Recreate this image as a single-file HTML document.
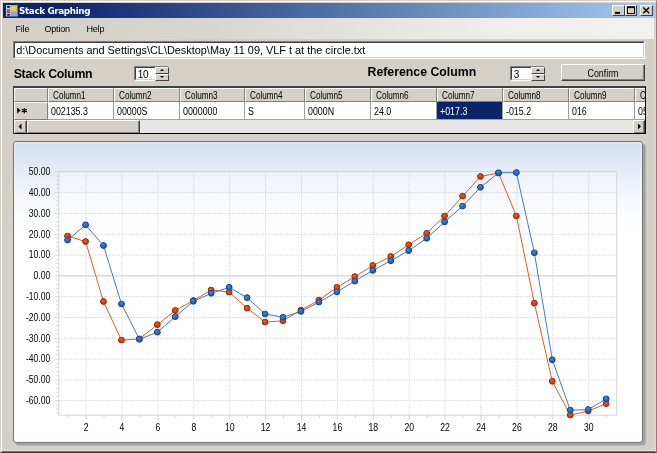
<!DOCTYPE html>
<html><head><meta charset="utf-8"><title>Stack Graphing</title>
<style>
html,body{margin:0;padding:0;}
body{width:657px;height:453px;overflow:hidden;background:#d4d0c8;position:relative;font-family:"Liberation Sans",sans-serif;color:#000;}
div,span,b,i{box-sizing:border-box;}
.abs{position:absolute;}
#frame{position:absolute;left:0;top:0;width:657px;height:453px;border-top:1px solid #d4d0c8;border-left:1px solid #d4d0c8;border-right:1px solid #85857f;border-bottom:1px solid #404040;}
#frame2{position:absolute;left:1px;top:1px;width:655px;height:451px;border-top:1px solid #fff;border-left:1px solid #fff;border-right:1px solid #dcdad4;border-bottom:1px solid #6e6e6e;}
#frame3{position:absolute;left:2px;top:450px;width:653px;height:1px;background:#e2e0da;}
#title{position:absolute;left:3px;top:3px;width:652.5px;height:15px;background:linear-gradient(to right,#0a246a 0%,#0a246a 8%,#a6caf0 100%);}
#title .txt{position:absolute;left:16px;top:1.5px;font-family:"DejaVu Sans","Liberation Sans",sans-serif;font-weight:bold;font-size:8.8px;line-height:12px;color:#fff;white-space:nowrap;letter-spacing:-0.36px;}
.wb{position:absolute;top:2px;height:11px;width:12.4px;background:#d4d0c8;border-top:1px solid #fff;border-left:1px solid #fff;border-right:1px solid #404040;border-bottom:1px solid #404040;}
#menu{position:absolute;left:3px;top:18px;width:651px;height:20.5px;background:linear-gradient(to right,#d4d0c8 0%,#d8d5ce 30%,#efeeea 75%,#f2f1ed 100%);}
#menu span{position:absolute;top:6px;font-size:9px;line-height:11px;letter-spacing:-0.2px;}
#tb{position:absolute;left:13px;top:41px;width:632px;height:17.6px;background:#fff;border-top:1px solid #808080;border-left:1px solid #808080;border-right:1px solid #fff;border-bottom:1px solid #fff;}
#tb i{position:absolute;left:0;top:0;right:0;bottom:0;border-top:1px solid #404040;border-left:1px solid #404040;border-right:1px solid #d4d0c8;border-bottom:1px solid #d4d0c8;}
#tb span{position:absolute;left:2.2px;top:2.4px;font-size:10.9px;line-height:13px;white-space:nowrap;}
.lbl{position:absolute;font-weight:bold;font-size:12.3px;line-height:14px;white-space:nowrap;}
.nud{position:absolute;top:66px;height:15px;width:35px;background:#fff;border-top:1px solid #808080;border-left:1px solid #808080;border-right:1px solid #fff;border-bottom:1px solid #fff;}
.nud i{position:absolute;left:0;top:0;right:0;bottom:0;border-top:1px solid #404040;border-left:1px solid #404040;border-right:1px solid #d4d0c8;border-bottom:1px solid #d4d0c8;}
.nud span{position:absolute;left:2.8px;top:1.7px;font-size:10px;line-height:11px;letter-spacing:-0.4px;}
.nud b{position:absolute;left:20.3px;width:13.7px;height:7px;background:#d4d0c8;border-top:1px solid #fff;border-left:1px solid #fff;border-right:1px solid #404040;border-bottom:1px solid #404040;}
.nud b.u{top:0px;height:6.6px;} .nud b.d{top:6.6px;height:7.4px;}
.nud b:after{content:"";position:absolute;left:3.6px;top:1.3px;border-left:2px solid transparent;border-right:2px solid transparent;}
.nud b.u:after{border-bottom:2px solid #000;}
.nud b.d:after{border-top:2px solid #000;}
#btn{position:absolute;left:561px;top:64px;width:84px;height:17px;background:#d4d0c8;border-top:1px solid #fff;border-left:1px solid #fff;border-right:1px solid #404040;border-bottom:1px solid #404040;}
#btn i{position:absolute;left:0;top:0;right:0;bottom:0;border-right:1px solid #808080;border-bottom:1px solid #808080;}
#btn span{position:absolute;left:0;right:0;top:2.8px;text-align:center;font-size:10.3px;line-height:11px;transform:scaleX(0.86);}
#grid{position:absolute;left:13px;top:86px;width:633px;height:48px;border:1px solid #000;border-top:1px solid #404040;border-left:1px solid #404040;background:#fff;overflow:hidden;}
#grid .in{position:absolute;left:0;top:0;width:631px;height:46px;border-top:1px solid #404040;border-left:0px solid #404040;overflow:hidden;}
.hc,.dc,.rh,.rh0{position:absolute;font-size:10px;white-space:nowrap;overflow:hidden;}
.hc{top:0;height:14px;background:#d4d0c8;border-right:1px solid #808080;border-bottom:1px solid #808080;border-top:1px solid #fff;border-left:1px solid #fff;}
.hc span{position:absolute;left:4.0px;top:0.8px;line-height:11px;display:inline-block;transform-origin:0 50%;transform:scaleX(0.815);}
.dc{top:14px;height:18px;background:#fff;border-right:1px solid #a0a0a0;border-bottom:1px solid #a0a0a0;}
.dc span{position:absolute;left:2.8px;top:3.9px;line-height:11px;display:inline-block;transform-origin:0 50%;transform:scaleX(0.885);}
.dc.sel{background:#0a246a;color:#fff;}
.rh0{left:0;top:0;width:34px;height:14px;background:#d4d0c8;border-right:1px solid #808080;border-bottom:1px solid #808080;border-top:1px solid #fff;border-left:1px solid #fff;}
.rh{left:0;top:14px;width:34px;height:18px;background:#d4d0c8;border-right:1px solid #808080;border-bottom:1px solid #808080;border-top:1px solid #fff;border-left:1px solid #fff;}
.rh span{position:absolute;left:2px;top:3px;font-size:8px;line-height:11px;letter-spacing:-1.5px;}
#sb{position:absolute;left:0;top:32px;width:631px;height:14px;background:#e9e7e3;}
.sbb{position:absolute;top:0;height:14px;background:#d4d0c8;border-top:1px solid #fff;border-left:1px solid #fff;border-right:1px solid #404040;border-bottom:1px solid #404040;}
.sbb i{position:absolute;left:0;top:0;right:0;bottom:0;border-right:1px solid #808080;border-bottom:1px solid #808080;}
.chart{position:absolute;left:0;top:0;}
.al{font-family:"Liberation Sans",sans-serif;font-size:10.3px;fill:#000;}
</style></head>
<body>
<div id="frame"></div><div id="frame2"></div><div id="frame3"></div>
<div id="title">
<svg class="abs" style="left:2.6px;top:1.9px" width="12" height="12" viewBox="0 0 12 12"><rect x="0" y="0" width="11.6" height="11.4" fill="#9fb4dc"/><rect x="0.3" y="0.3" width="4.4" height="10.8" fill="#c4d0e6"/><rect x="4.7" y="6.8" width="6.6" height="4.3" fill="#86a6e0"/><rect x="1.2" y="0.9" width="2.6" height="1.9" fill="#0a0a14"/><rect x="1.1" y="4.3" width="2.9" height="3.8" fill="#d8281a"/><rect x="1.9" y="5.2" width="1.2" height="1.4" fill="#ff7a50"/><rect x="1.2" y="9" width="2.6" height="1.7" fill="#0a1020"/><rect x="5.1" y="1.2" width="5.6" height="5.4" fill="#e8c81c"/><rect x="6" y="1.9" width="3.6" height="3.4" fill="#fbe85a"/><path d="M5.1 3.9 H10.7 M7.9 1.2 V6.6" stroke="#d8b010" stroke-width="0.5"/></svg>
<span class="txt">Stack Graphing</span>
<div class="wb" style="left:609.4px"><svg class="abs" style="left:0;top:0" width="10" height="9"><rect x="1.9" y="5.9" width="5.2" height="2" fill="#000"/></svg></div>
<div class="wb" style="left:622px"><svg class="abs" style="left:0;top:0" width="10" height="9"><rect x="1.5" y="1" width="7" height="6.5" fill="none" stroke="#000" stroke-width="1"/><rect x="1" y="0.5" width="8" height="1.6" fill="#000"/></svg></div>
<div class="wb" style="left:637.3px"><svg class="abs" style="left:0;top:0" width="10" height="9"><path d="M2.2 1.6 L8.2 7.2 M8.2 1.6 L2.2 7.2" stroke="#000" stroke-width="1.4" fill="none"/></svg></div>
</div>
<div id="menu"><span style="left:12.5px">File</span><span style="left:41.5px">Option</span><span style="left:83.5px">Help</span></div>
<div id="tb"><i></i><span>d:\Documents and Settings\CL\Desktop\May 11 09, VLF t at the circle.txt</span></div>
<div class="lbl" style="left:13.7px;top:66.8px;letter-spacing:-0.28px">Stack Column</div>
<div class="lbl" style="left:367.5px;top:65.4px">Reference Column</div>
<div class="nud" style="left:134px"><i></i><span>10</span><b class="u"></b><b class="d"></b></div>
<div class="nud" style="left:510px"><i></i><span>3</span><b class="u"></b><b class="d"></b></div>
<div id="btn"><i></i><span>Confirm</span></div>
<div id="grid"><div class="in">
<div class="rh0"></div><div class="rh"><svg class="abs" style="left:0;top:0" width="30" height="17" viewBox="0 0 30 17"><path d="M2.2 4.6 L2.2 10.6 L5.6 7.6 Z" fill="#000"/><path d="M9.3 5 L9.3 10.4 M6.7 6.3 L11.9 9.1 M11.9 6.3 L6.7 9.1" stroke="#000" stroke-width="1.1" fill="none"/></svg></div>
<div class="hc" style="left:34px;width:66px"><span>Column1</span></div>
<div class="dc" style="left:34px;width:66px"><span>002135.3</span></div>
<div class="hc" style="left:100px;width:66px"><span>Column2</span></div>
<div class="dc" style="left:100px;width:66px"><span>00000S</span></div>
<div class="hc" style="left:166px;width:65px"><span>Column3</span></div>
<div class="dc" style="left:166px;width:65px"><span>0000000</span></div>
<div class="hc" style="left:231px;width:60px"><span>Column4</span></div>
<div class="dc" style="left:231px;width:60px"><span>S</span></div>
<div class="hc" style="left:291px;width:66px"><span>Column5</span></div>
<div class="dc" style="left:291px;width:66px"><span>0000N</span></div>
<div class="hc" style="left:357px;width:66px"><span>Column6</span></div>
<div class="dc" style="left:357px;width:66px"><span>24.0</span></div>
<div class="hc" style="left:423px;width:66px"><span>Column7</span></div>
<div class="dc sel" style="left:423px;width:66px"><span>+017.3</span></div>
<div class="hc" style="left:489px;width:66px"><span>Column8</span></div>
<div class="dc" style="left:489px;width:66px"><span>-015.2</span></div>
<div class="hc" style="left:555px;width:66px"><span>Column9</span></div>
<div class="dc" style="left:555px;width:66px"><span>016</span></div>
<div class="hc" style="left:621px;width:11px"><span>C</span></div>
<div class="dc" style="left:621px;width:11px"><span>05</span></div>
<div id="sb"><div class="sbb" style="left:0;width:13px"><i></i><svg class="abs" style="left:0;top:0" width="11" height="11"><path d="M6.5 2.5 L6.5 8.5 L3.5 5.5 Z" fill="#000"/></svg></div>
<div class="sbb" style="left:13px;width:112.5px"><i></i></div>
<div class="sbb" style="left:619px;width:12px"><i></i><svg class="abs" style="left:0;top:0" width="11" height="11"><path d="M4 2.5 L4 8.5 L7 5.5 Z" fill="#000"/></svg></div>
</div>
</div></div>
<svg class="chart" width="657" height="453" viewBox="0 0 657 453">
<defs>
<linearGradient id="pg" x1="0" y1="0" x2="0" y2="1"><stop offset="0" stop-color="#d5dff1"/><stop offset="0.1" stop-color="#e6ecf7"/><stop offset="0.17" stop-color="#f2f5fb"/><stop offset="0.24" stop-color="#fbfcfe"/><stop offset="0.3" stop-color="#ffffff"/><stop offset="1" stop-color="#ffffff"/></linearGradient>
<radialGradient id="gb" cx="0.5" cy="0.5" r="0.5" fx="0.42" fy="0.36"><stop offset="0" stop-color="#3f88e6"/><stop offset="0.5" stop-color="#2c69c0"/><stop offset="0.82" stop-color="#1b458c"/><stop offset="1" stop-color="#1b458c" stop-opacity="0.25"/></radialGradient>
<radialGradient id="gr" cx="0.5" cy="0.5" r="0.5" fx="0.42" fy="0.36"><stop offset="0" stop-color="#f05c20"/><stop offset="0.5" stop-color="#cf460e"/><stop offset="0.82" stop-color="#953008"/><stop offset="1" stop-color="#953008" stop-opacity="0.25"/></radialGradient>
</defs>
<rect x="15.5" y="144" width="630.3" height="301.4" rx="3" ry="3" fill="#a2a2a0"/>
<rect x="13.5" y="141.5" width="629" height="300.8" rx="2.6" ry="2.6" fill="url(#pg)" stroke="#6a727e" stroke-width="1"/><rect x="14.6" y="142.6" width="626.8" height="298.6" rx="1.8" ry="1.8" fill="none" stroke="#ffffff" stroke-opacity="0.45" stroke-width="1.2"/>
<rect x="58.8" y="171.6" width="557.9000000000001" height="243.6" fill="#ffffff" fill-opacity="0.3" stroke="#d4d4d4" stroke-width="1"/>
<line x1="58.8" y1="192.7" x2="616.7" y2="192.7" stroke="#d2d2d2" stroke-width="0.9" stroke-dasharray="1.3 1.1"/>
<line x1="58.8" y1="213.5" x2="616.7" y2="213.5" stroke="#d2d2d2" stroke-width="0.9" stroke-dasharray="1.3 1.1"/>
<line x1="58.8" y1="234.3" x2="616.7" y2="234.3" stroke="#d2d2d2" stroke-width="0.9" stroke-dasharray="1.3 1.1"/>
<line x1="58.8" y1="255.1" x2="616.7" y2="255.1" stroke="#d2d2d2" stroke-width="0.9" stroke-dasharray="1.3 1.1"/>
<line x1="58.8" y1="275.9" x2="616.7" y2="275.9" stroke="#c6c6c6" stroke-width="1"/>
<line x1="58.8" y1="296.7" x2="616.7" y2="296.7" stroke="#d2d2d2" stroke-width="0.9" stroke-dasharray="1.3 1.1"/>
<line x1="58.8" y1="317.5" x2="616.7" y2="317.5" stroke="#d2d2d2" stroke-width="0.9" stroke-dasharray="1.3 1.1"/>
<line x1="58.8" y1="338.3" x2="616.7" y2="338.3" stroke="#d2d2d2" stroke-width="0.9" stroke-dasharray="1.3 1.1"/>
<line x1="58.8" y1="359.1" x2="616.7" y2="359.1" stroke="#d2d2d2" stroke-width="0.9" stroke-dasharray="1.3 1.1"/>
<line x1="58.8" y1="379.9" x2="616.7" y2="379.9" stroke="#d2d2d2" stroke-width="0.9" stroke-dasharray="1.3 1.1"/>
<line x1="58.8" y1="400.6" x2="616.7" y2="400.6" stroke="#d2d2d2" stroke-width="0.9" stroke-dasharray="1.3 1.1"/>
<line x1="86.1" y1="171.6" x2="86.1" y2="415.2" stroke="#d2d2d2" stroke-width="0.9" stroke-dasharray="1.3 1.1"/>
<line x1="122.0" y1="171.6" x2="122.0" y2="415.2" stroke="#d2d2d2" stroke-width="0.9" stroke-dasharray="1.3 1.1"/>
<line x1="157.9" y1="171.6" x2="157.9" y2="415.2" stroke="#d2d2d2" stroke-width="0.9" stroke-dasharray="1.3 1.1"/>
<line x1="193.8" y1="171.6" x2="193.8" y2="415.2" stroke="#d2d2d2" stroke-width="0.9" stroke-dasharray="1.3 1.1"/>
<line x1="229.7" y1="171.6" x2="229.7" y2="415.2" stroke="#d2d2d2" stroke-width="0.9" stroke-dasharray="1.3 1.1"/>
<line x1="265.6" y1="171.6" x2="265.6" y2="415.2" stroke="#d2d2d2" stroke-width="0.9" stroke-dasharray="1.3 1.1"/>
<line x1="301.5" y1="171.6" x2="301.5" y2="415.2" stroke="#d2d2d2" stroke-width="0.9" stroke-dasharray="1.3 1.1"/>
<line x1="337.4" y1="171.6" x2="337.4" y2="415.2" stroke="#d2d2d2" stroke-width="0.9" stroke-dasharray="1.3 1.1"/>
<line x1="373.3" y1="171.6" x2="373.3" y2="415.2" stroke="#d2d2d2" stroke-width="0.9" stroke-dasharray="1.3 1.1"/>
<line x1="409.2" y1="171.6" x2="409.2" y2="415.2" stroke="#d2d2d2" stroke-width="0.9" stroke-dasharray="1.3 1.1"/>
<line x1="445.1" y1="171.6" x2="445.1" y2="415.2" stroke="#d2d2d2" stroke-width="0.9" stroke-dasharray="1.3 1.1"/>
<line x1="481.0" y1="171.6" x2="481.0" y2="415.2" stroke="#d2d2d2" stroke-width="0.9" stroke-dasharray="1.3 1.1"/>
<line x1="516.9" y1="171.6" x2="516.9" y2="415.2" stroke="#d2d2d2" stroke-width="0.9" stroke-dasharray="1.3 1.1"/>
<line x1="552.8" y1="171.6" x2="552.8" y2="415.2" stroke="#d2d2d2" stroke-width="0.9" stroke-dasharray="1.3 1.1"/>
<line x1="588.7" y1="171.6" x2="588.7" y2="415.2" stroke="#d2d2d2" stroke-width="0.9" stroke-dasharray="1.3 1.1"/>
<line x1="54.3" y1="171.9" x2="58.8" y2="171.9" stroke="#d2d2d2" stroke-width="0.9"/>
<line x1="56.199999999999996" y1="176.1" x2="58.8" y2="176.1" stroke="#d2d2d2" stroke-width="0.9"/>
<line x1="56.199999999999996" y1="180.2" x2="58.8" y2="180.2" stroke="#d2d2d2" stroke-width="0.9"/>
<line x1="56.199999999999996" y1="184.4" x2="58.8" y2="184.4" stroke="#d2d2d2" stroke-width="0.9"/>
<line x1="56.199999999999996" y1="188.5" x2="58.8" y2="188.5" stroke="#d2d2d2" stroke-width="0.9"/>
<line x1="54.3" y1="192.7" x2="58.8" y2="192.7" stroke="#d2d2d2" stroke-width="0.9"/>
<line x1="56.199999999999996" y1="196.9" x2="58.8" y2="196.9" stroke="#d2d2d2" stroke-width="0.9"/>
<line x1="56.199999999999996" y1="201.0" x2="58.8" y2="201.0" stroke="#d2d2d2" stroke-width="0.9"/>
<line x1="56.199999999999996" y1="205.2" x2="58.8" y2="205.2" stroke="#d2d2d2" stroke-width="0.9"/>
<line x1="56.199999999999996" y1="209.3" x2="58.8" y2="209.3" stroke="#d2d2d2" stroke-width="0.9"/>
<line x1="54.3" y1="213.5" x2="58.8" y2="213.5" stroke="#d2d2d2" stroke-width="0.9"/>
<line x1="56.199999999999996" y1="217.6" x2="58.8" y2="217.6" stroke="#d2d2d2" stroke-width="0.9"/>
<line x1="56.199999999999996" y1="221.8" x2="58.8" y2="221.8" stroke="#d2d2d2" stroke-width="0.9"/>
<line x1="56.199999999999996" y1="226.0" x2="58.8" y2="226.0" stroke="#d2d2d2" stroke-width="0.9"/>
<line x1="56.199999999999996" y1="230.1" x2="58.8" y2="230.1" stroke="#d2d2d2" stroke-width="0.9"/>
<line x1="54.3" y1="234.3" x2="58.8" y2="234.3" stroke="#d2d2d2" stroke-width="0.9"/>
<line x1="56.199999999999996" y1="238.4" x2="58.8" y2="238.4" stroke="#d2d2d2" stroke-width="0.9"/>
<line x1="56.199999999999996" y1="242.6" x2="58.8" y2="242.6" stroke="#d2d2d2" stroke-width="0.9"/>
<line x1="56.199999999999996" y1="246.8" x2="58.8" y2="246.8" stroke="#d2d2d2" stroke-width="0.9"/>
<line x1="56.199999999999996" y1="250.9" x2="58.8" y2="250.9" stroke="#d2d2d2" stroke-width="0.9"/>
<line x1="54.3" y1="255.1" x2="58.8" y2="255.1" stroke="#d2d2d2" stroke-width="0.9"/>
<line x1="56.199999999999996" y1="259.2" x2="58.8" y2="259.2" stroke="#d2d2d2" stroke-width="0.9"/>
<line x1="56.199999999999996" y1="263.4" x2="58.8" y2="263.4" stroke="#d2d2d2" stroke-width="0.9"/>
<line x1="56.199999999999996" y1="267.6" x2="58.8" y2="267.6" stroke="#d2d2d2" stroke-width="0.9"/>
<line x1="56.199999999999996" y1="271.7" x2="58.8" y2="271.7" stroke="#d2d2d2" stroke-width="0.9"/>
<line x1="54.3" y1="275.9" x2="58.8" y2="275.9" stroke="#d2d2d2" stroke-width="0.9"/>
<line x1="56.199999999999996" y1="280.0" x2="58.8" y2="280.0" stroke="#d2d2d2" stroke-width="0.9"/>
<line x1="56.199999999999996" y1="284.2" x2="58.8" y2="284.2" stroke="#d2d2d2" stroke-width="0.9"/>
<line x1="56.199999999999996" y1="288.4" x2="58.8" y2="288.4" stroke="#d2d2d2" stroke-width="0.9"/>
<line x1="56.199999999999996" y1="292.5" x2="58.8" y2="292.5" stroke="#d2d2d2" stroke-width="0.9"/>
<line x1="54.3" y1="296.7" x2="58.8" y2="296.7" stroke="#d2d2d2" stroke-width="0.9"/>
<line x1="56.199999999999996" y1="300.8" x2="58.8" y2="300.8" stroke="#d2d2d2" stroke-width="0.9"/>
<line x1="56.199999999999996" y1="305.0" x2="58.8" y2="305.0" stroke="#d2d2d2" stroke-width="0.9"/>
<line x1="56.199999999999996" y1="309.1" x2="58.8" y2="309.1" stroke="#d2d2d2" stroke-width="0.9"/>
<line x1="56.199999999999996" y1="313.3" x2="58.8" y2="313.3" stroke="#d2d2d2" stroke-width="0.9"/>
<line x1="54.3" y1="317.5" x2="58.8" y2="317.5" stroke="#d2d2d2" stroke-width="0.9"/>
<line x1="56.199999999999996" y1="321.6" x2="58.8" y2="321.6" stroke="#d2d2d2" stroke-width="0.9"/>
<line x1="56.199999999999996" y1="325.8" x2="58.8" y2="325.8" stroke="#d2d2d2" stroke-width="0.9"/>
<line x1="56.199999999999996" y1="329.9" x2="58.8" y2="329.9" stroke="#d2d2d2" stroke-width="0.9"/>
<line x1="56.199999999999996" y1="334.1" x2="58.8" y2="334.1" stroke="#d2d2d2" stroke-width="0.9"/>
<line x1="54.3" y1="338.3" x2="58.8" y2="338.3" stroke="#d2d2d2" stroke-width="0.9"/>
<line x1="56.199999999999996" y1="342.4" x2="58.8" y2="342.4" stroke="#d2d2d2" stroke-width="0.9"/>
<line x1="56.199999999999996" y1="346.6" x2="58.8" y2="346.6" stroke="#d2d2d2" stroke-width="0.9"/>
<line x1="56.199999999999996" y1="350.7" x2="58.8" y2="350.7" stroke="#d2d2d2" stroke-width="0.9"/>
<line x1="56.199999999999996" y1="354.9" x2="58.8" y2="354.9" stroke="#d2d2d2" stroke-width="0.9"/>
<line x1="54.3" y1="359.1" x2="58.8" y2="359.1" stroke="#d2d2d2" stroke-width="0.9"/>
<line x1="56.199999999999996" y1="363.2" x2="58.8" y2="363.2" stroke="#d2d2d2" stroke-width="0.9"/>
<line x1="56.199999999999996" y1="367.4" x2="58.8" y2="367.4" stroke="#d2d2d2" stroke-width="0.9"/>
<line x1="56.199999999999996" y1="371.5" x2="58.8" y2="371.5" stroke="#d2d2d2" stroke-width="0.9"/>
<line x1="56.199999999999996" y1="375.7" x2="58.8" y2="375.7" stroke="#d2d2d2" stroke-width="0.9"/>
<line x1="54.3" y1="379.9" x2="58.8" y2="379.9" stroke="#d2d2d2" stroke-width="0.9"/>
<line x1="56.199999999999996" y1="384.0" x2="58.8" y2="384.0" stroke="#d2d2d2" stroke-width="0.9"/>
<line x1="56.199999999999996" y1="388.2" x2="58.8" y2="388.2" stroke="#d2d2d2" stroke-width="0.9"/>
<line x1="56.199999999999996" y1="392.3" x2="58.8" y2="392.3" stroke="#d2d2d2" stroke-width="0.9"/>
<line x1="56.199999999999996" y1="396.5" x2="58.8" y2="396.5" stroke="#d2d2d2" stroke-width="0.9"/>
<line x1="54.3" y1="400.6" x2="58.8" y2="400.6" stroke="#d2d2d2" stroke-width="0.9"/>
<line x1="56.199999999999996" y1="404.8" x2="58.8" y2="404.8" stroke="#d2d2d2" stroke-width="0.9"/>
<line x1="56.199999999999996" y1="409.0" x2="58.8" y2="409.0" stroke="#d2d2d2" stroke-width="0.9"/>
<line x1="56.199999999999996" y1="413.1" x2="58.8" y2="413.1" stroke="#d2d2d2" stroke-width="0.9"/>
<line x1="68.1" y1="415.2" x2="68.1" y2="417.8" stroke="#cccccc" stroke-width="0.9"/>
<line x1="86.1" y1="415.2" x2="86.1" y2="419.7" stroke="#cccccc" stroke-width="0.9"/>
<line x1="104.0" y1="415.2" x2="104.0" y2="417.8" stroke="#cccccc" stroke-width="0.9"/>
<line x1="122.0" y1="415.2" x2="122.0" y2="419.7" stroke="#cccccc" stroke-width="0.9"/>
<line x1="139.9" y1="415.2" x2="139.9" y2="417.8" stroke="#cccccc" stroke-width="0.9"/>
<line x1="157.9" y1="415.2" x2="157.9" y2="419.7" stroke="#cccccc" stroke-width="0.9"/>
<line x1="175.8" y1="415.2" x2="175.8" y2="417.8" stroke="#cccccc" stroke-width="0.9"/>
<line x1="193.8" y1="415.2" x2="193.8" y2="419.7" stroke="#cccccc" stroke-width="0.9"/>
<line x1="211.7" y1="415.2" x2="211.7" y2="417.8" stroke="#cccccc" stroke-width="0.9"/>
<line x1="229.7" y1="415.2" x2="229.7" y2="419.7" stroke="#cccccc" stroke-width="0.9"/>
<line x1="247.6" y1="415.2" x2="247.6" y2="417.8" stroke="#cccccc" stroke-width="0.9"/>
<line x1="265.6" y1="415.2" x2="265.6" y2="419.7" stroke="#cccccc" stroke-width="0.9"/>
<line x1="283.5" y1="415.2" x2="283.5" y2="417.8" stroke="#cccccc" stroke-width="0.9"/>
<line x1="301.5" y1="415.2" x2="301.5" y2="419.7" stroke="#cccccc" stroke-width="0.9"/>
<line x1="319.4" y1="415.2" x2="319.4" y2="417.8" stroke="#cccccc" stroke-width="0.9"/>
<line x1="337.4" y1="415.2" x2="337.4" y2="419.7" stroke="#cccccc" stroke-width="0.9"/>
<line x1="355.3" y1="415.2" x2="355.3" y2="417.8" stroke="#cccccc" stroke-width="0.9"/>
<line x1="373.3" y1="415.2" x2="373.3" y2="419.7" stroke="#cccccc" stroke-width="0.9"/>
<line x1="391.3" y1="415.2" x2="391.3" y2="417.8" stroke="#cccccc" stroke-width="0.9"/>
<line x1="409.2" y1="415.2" x2="409.2" y2="419.7" stroke="#cccccc" stroke-width="0.9"/>
<line x1="427.2" y1="415.2" x2="427.2" y2="417.8" stroke="#cccccc" stroke-width="0.9"/>
<line x1="445.1" y1="415.2" x2="445.1" y2="419.7" stroke="#cccccc" stroke-width="0.9"/>
<line x1="463.1" y1="415.2" x2="463.1" y2="417.8" stroke="#cccccc" stroke-width="0.9"/>
<line x1="481.0" y1="415.2" x2="481.0" y2="419.7" stroke="#cccccc" stroke-width="0.9"/>
<line x1="499.0" y1="415.2" x2="499.0" y2="417.8" stroke="#cccccc" stroke-width="0.9"/>
<line x1="516.9" y1="415.2" x2="516.9" y2="419.7" stroke="#cccccc" stroke-width="0.9"/>
<line x1="534.9" y1="415.2" x2="534.9" y2="417.8" stroke="#cccccc" stroke-width="0.9"/>
<line x1="552.8" y1="415.2" x2="552.8" y2="419.7" stroke="#cccccc" stroke-width="0.9"/>
<line x1="570.8" y1="415.2" x2="570.8" y2="417.8" stroke="#cccccc" stroke-width="0.9"/>
<line x1="588.7" y1="415.2" x2="588.7" y2="419.7" stroke="#cccccc" stroke-width="0.9"/>
<line x1="606.7" y1="415.2" x2="606.7" y2="417.8" stroke="#cccccc" stroke-width="0.9"/>
<text transform="translate(50.3,175.1) scale(0.835,1)" text-anchor="end" class="al">50.00</text>
<text transform="translate(50.3,195.9) scale(0.835,1)" text-anchor="end" class="al">40.00</text>
<text transform="translate(50.3,216.7) scale(0.835,1)" text-anchor="end" class="al">30.00</text>
<text transform="translate(50.3,237.5) scale(0.835,1)" text-anchor="end" class="al">20.00</text>
<text transform="translate(50.3,258.3) scale(0.835,1)" text-anchor="end" class="al">10.00</text>
<text transform="translate(50.3,279.1) scale(0.835,1)" text-anchor="end" class="al">0.00</text>
<text transform="translate(50.3,299.9) scale(0.835,1)" text-anchor="end" class="al">-10.00</text>
<text transform="translate(50.3,320.7) scale(0.835,1)" text-anchor="end" class="al">-20.00</text>
<text transform="translate(50.3,341.5) scale(0.835,1)" text-anchor="end" class="al">-30.00</text>
<text transform="translate(50.3,362.3) scale(0.835,1)" text-anchor="end" class="al">-40.00</text>
<text transform="translate(50.3,383.1) scale(0.835,1)" text-anchor="end" class="al">-50.00</text>
<text transform="translate(50.3,403.8) scale(0.835,1)" text-anchor="end" class="al">-60.00</text>
<text transform="translate(86.1,430.6) scale(0.84,1)" text-anchor="middle" class="al">2</text>
<text transform="translate(122.0,430.6) scale(0.84,1)" text-anchor="middle" class="al">4</text>
<text transform="translate(157.9,430.6) scale(0.84,1)" text-anchor="middle" class="al">6</text>
<text transform="translate(193.8,430.6) scale(0.84,1)" text-anchor="middle" class="al">8</text>
<text transform="translate(229.7,430.6) scale(0.84,1)" text-anchor="middle" class="al">10</text>
<text transform="translate(265.6,430.6) scale(0.84,1)" text-anchor="middle" class="al">12</text>
<text transform="translate(301.5,430.6) scale(0.84,1)" text-anchor="middle" class="al">14</text>
<text transform="translate(337.4,430.6) scale(0.84,1)" text-anchor="middle" class="al">16</text>
<text transform="translate(373.3,430.6) scale(0.84,1)" text-anchor="middle" class="al">18</text>
<text transform="translate(409.2,430.6) scale(0.84,1)" text-anchor="middle" class="al">20</text>
<text transform="translate(445.1,430.6) scale(0.84,1)" text-anchor="middle" class="al">22</text>
<text transform="translate(481.0,430.6) scale(0.84,1)" text-anchor="middle" class="al">24</text>
<text transform="translate(516.9,430.6) scale(0.84,1)" text-anchor="middle" class="al">26</text>
<text transform="translate(552.8,430.6) scale(0.84,1)" text-anchor="middle" class="al">28</text>
<text transform="translate(588.7,430.6) scale(0.84,1)" text-anchor="middle" class="al">30</text>
<polyline points="67.6,236.0 85.6,241.6 103.5,301.6 121.5,340.2 139.4,338.9 157.4,324.7 175.3,310.5 193.3,300.6 211.2,290.0 229.2,292.2 247.1,308.2 265.1,322.1 283.0,320.8 301.0,310.0 318.9,300.2 336.9,287.4 354.8,276.7 372.8,265.5 390.8,256.5 408.7,244.8 426.7,233.3 444.6,216.0 462.6,196.2 480.5,176.5 498.5,173.0 516.4,216.0 534.4,303.2 552.3,381.3 570.3,415.1 588.2,411.0 606.2,403.7" fill="none" stroke="#d4622a" stroke-width="1" stroke-linejoin="round"/>
<circle cx="67.6" cy="236.0" r="3.6" fill="url(#gr)"/>
<circle cx="85.6" cy="241.6" r="3.6" fill="url(#gr)"/>
<circle cx="103.5" cy="301.6" r="3.6" fill="url(#gr)"/>
<circle cx="121.5" cy="340.2" r="3.6" fill="url(#gr)"/>
<circle cx="139.4" cy="338.9" r="3.6" fill="url(#gr)"/>
<circle cx="157.4" cy="324.7" r="3.6" fill="url(#gr)"/>
<circle cx="175.3" cy="310.5" r="3.6" fill="url(#gr)"/>
<circle cx="193.3" cy="300.6" r="3.6" fill="url(#gr)"/>
<circle cx="211.2" cy="290.0" r="3.6" fill="url(#gr)"/>
<circle cx="229.2" cy="292.2" r="3.6" fill="url(#gr)"/>
<circle cx="247.1" cy="308.2" r="3.6" fill="url(#gr)"/>
<circle cx="265.1" cy="322.1" r="3.6" fill="url(#gr)"/>
<circle cx="283.0" cy="320.8" r="3.6" fill="url(#gr)"/>
<circle cx="301.0" cy="310.0" r="3.6" fill="url(#gr)"/>
<circle cx="318.9" cy="300.2" r="3.6" fill="url(#gr)"/>
<circle cx="336.9" cy="287.4" r="3.6" fill="url(#gr)"/>
<circle cx="354.8" cy="276.7" r="3.6" fill="url(#gr)"/>
<circle cx="372.8" cy="265.5" r="3.6" fill="url(#gr)"/>
<circle cx="390.8" cy="256.5" r="3.6" fill="url(#gr)"/>
<circle cx="408.7" cy="244.8" r="3.6" fill="url(#gr)"/>
<circle cx="426.7" cy="233.3" r="3.6" fill="url(#gr)"/>
<circle cx="444.6" cy="216.0" r="3.6" fill="url(#gr)"/>
<circle cx="462.6" cy="196.2" r="3.6" fill="url(#gr)"/>
<circle cx="480.5" cy="176.5" r="3.6" fill="url(#gr)"/>
<circle cx="498.5" cy="173.0" r="3.6" fill="url(#gr)"/>
<circle cx="516.4" cy="216.0" r="3.6" fill="url(#gr)"/>
<circle cx="534.4" cy="303.2" r="3.6" fill="url(#gr)"/>
<circle cx="552.3" cy="381.3" r="3.6" fill="url(#gr)"/>
<circle cx="570.3" cy="415.1" r="3.6" fill="url(#gr)"/>
<circle cx="588.2" cy="411.0" r="3.6" fill="url(#gr)"/>
<circle cx="606.2" cy="403.7" r="3.6" fill="url(#gr)"/>
<polyline points="67.6,240.1 85.6,224.9 103.5,245.6 121.5,304.0 139.4,339.3 157.4,332.2 175.3,316.7 193.3,301.3 211.2,293.3 229.2,287.4 247.1,297.7 265.1,314.0 283.0,317.3 301.0,311.5 318.9,302.2 336.9,291.9 354.8,281.2 372.8,270.4 390.8,260.8 408.7,250.6 426.7,238.3 444.6,221.9 462.6,206.1 480.5,187.3 498.5,172.8 516.4,172.6 534.4,252.8 552.3,359.8 570.3,410.2 588.2,409.6 606.2,398.9" fill="none" stroke="#4679be" stroke-width="1" stroke-linejoin="round"/>
<circle cx="67.6" cy="240.1" r="3.6" fill="url(#gb)"/>
<circle cx="85.6" cy="224.9" r="3.6" fill="url(#gb)"/>
<circle cx="103.5" cy="245.6" r="3.6" fill="url(#gb)"/>
<circle cx="121.5" cy="304.0" r="3.6" fill="url(#gb)"/>
<circle cx="139.4" cy="339.3" r="3.6" fill="url(#gb)"/>
<circle cx="157.4" cy="332.2" r="3.6" fill="url(#gb)"/>
<circle cx="175.3" cy="316.7" r="3.6" fill="url(#gb)"/>
<circle cx="193.3" cy="301.3" r="3.6" fill="url(#gb)"/>
<circle cx="211.2" cy="293.3" r="3.6" fill="url(#gb)"/>
<circle cx="229.2" cy="287.4" r="3.6" fill="url(#gb)"/>
<circle cx="247.1" cy="297.7" r="3.6" fill="url(#gb)"/>
<circle cx="265.1" cy="314.0" r="3.6" fill="url(#gb)"/>
<circle cx="283.0" cy="317.3" r="3.6" fill="url(#gb)"/>
<circle cx="301.0" cy="311.5" r="3.6" fill="url(#gb)"/>
<circle cx="318.9" cy="302.2" r="3.6" fill="url(#gb)"/>
<circle cx="336.9" cy="291.9" r="3.6" fill="url(#gb)"/>
<circle cx="354.8" cy="281.2" r="3.6" fill="url(#gb)"/>
<circle cx="372.8" cy="270.4" r="3.6" fill="url(#gb)"/>
<circle cx="390.8" cy="260.8" r="3.6" fill="url(#gb)"/>
<circle cx="408.7" cy="250.6" r="3.6" fill="url(#gb)"/>
<circle cx="426.7" cy="238.3" r="3.6" fill="url(#gb)"/>
<circle cx="444.6" cy="221.9" r="3.6" fill="url(#gb)"/>
<circle cx="462.6" cy="206.1" r="3.6" fill="url(#gb)"/>
<circle cx="480.5" cy="187.3" r="3.6" fill="url(#gb)"/>
<circle cx="498.5" cy="172.8" r="3.6" fill="url(#gb)"/>
<circle cx="516.4" cy="172.6" r="3.6" fill="url(#gb)"/>
<circle cx="534.4" cy="252.8" r="3.6" fill="url(#gb)"/>
<circle cx="552.3" cy="359.8" r="3.6" fill="url(#gb)"/>
<circle cx="570.3" cy="410.2" r="3.6" fill="url(#gb)"/>
<circle cx="588.2" cy="409.6" r="3.6" fill="url(#gb)"/>
<circle cx="606.2" cy="398.9" r="3.6" fill="url(#gb)"/>
</svg>
</body></html>
